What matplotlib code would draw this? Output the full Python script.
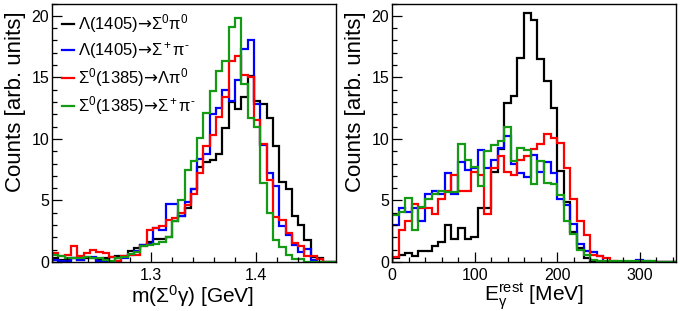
import numpy as np
import matplotlib
matplotlib.use("Agg")
import matplotlib.pyplot as plt
from matplotlib.ticker import MultipleLocator

plt.rcParams['font.family'] = ['Liberation Sans', 'DejaVu Sans']
plt.rcParams['mathtext.fontset'] = 'custom'
plt.rcParams['mathtext.rm'] = 'Liberation Sans'
plt.rcParams['mathtext.it'] = 'Liberation Sans'
plt.rcParams['mathtext.sf'] = 'DejaVu Sans'

# binning
m_lo, m_hi, m_nbins = 1.206, 1.476, 45
e_lo, e_hi, e_nbins = 0.0, 344.0, 43

labels = [r'Λ(1405)$\mathsf{→}$Σ$^0$π$^0$', r'Λ(1405)$\mathsf{→}$Σ$^+$π$^{\text{-}}$',
          r'Σ$^0$(1385)$\mathsf{→}$Λπ$^0$', r'Σ$^0$(1385)$\mathsf{→}$Σ$^+$π$^{\text{-}}$']
colors = ['black', '#0000ff', '#ff0000', '#159a15']

# m(Sigma0 gamma) histograms
m_black = [0.3, 0.2, 0.2, 0.3, 0.2, 0.3, 0.3, 0.2, 0.3, 0.4,
           0.5, 0.5, 0.9, 1.1, 1.4, 1.6, 1.85, 1.9, 2.0, 3.3,
           3.7, 4.4, 5.9, 7.7, 8.1, 8.3, 8.8, 10.9, 13.0, 12.4,
           13.4, 15.1, 13.1, 12.8, 11.7, 9.4, 6.5, 5.9, 3.7, 3.0,
           1.8, 0.4, 0.3, 0.0, 0.0]
m_blue = [0.2, 0.1, 0.1, 0.3, 0.2, 0.4, 0.4, 0.1, 0.1, 0.0,
          0.1, 0.3, 0.6, 0.9, 1.4, 1.5, 2.8, 2.6, 4.7, 4.7,
          3.7, 4.9, 5.9, 8.4, 8.8, 12.0, 12.5, 14.0, 13.1, 14.8,
          17.3, 18.0, 12.8, 9.5, 7.2, 6.2, 2.9, 2.2, 1.4, 0.8,
          1.05, 0.2, 0.0, 0.0, 0.0]
m_red = [0.7, 0.5, 0.6, 1.3, 0.45, 0.7, 0.95, 0.85, 0.75, 0.4,
         0.1, 0.45, 0.6, 0.6, 1.3, 2.6, 2.75, 2.9, 3.4, 3.6,
         4.0, 4.6, 5.5, 7.2, 9.4, 10.3, 11.8, 13.4, 16.3, 16.7,
         15.2, 15.0, 11.5, 9.6, 6.7, 3.65, 3.4, 2.35, 1.55, 1.3,
         0.5, 0.45, 0.25, 0.0, 0.0]
m_green = [0.55, 0.5, 0.3, 0.3, 0.35, 0.4, 0.3, 0.35, 0.2, 0.1,
           0.3, 0.4, 0.65, 0.85, 1.3, 1.4, 1.5, 1.65, 2.05, 3.3,
           5.0, 7.5, 8.2, 10.1, 12.1, 13.9, 15.5, 16.3, 19.1, 19.8,
           14.5, 11.7, 10.95, 6.4, 4.0, 1.8, 1.2, 0.6, 0.25, 0.25,
           0.0, 0.0, 0.0, 0.0, 0.0]

# E_gamma^rest histograms
e_black = [0.3, 0.6, 0.7, 0.5, 0.9, 0.9, 1.3, 1.65, 3.0, 1.85,
           2.8, 1.9, 2.0, 4.4, 4.4, 7.3, 9.2, 12.9, 13.5, 16.6,
           20.2, 19.7, 16.5, 14.7, 12.5, 7.4, 4.9, 2.4, 1.15, 0.3,
           0, 0, 0, 0, 0, 0, 0, 0, 0, 0, 0, 0, 0]
e_blue = [3.0, 4.4, 4.1, 4.4, 3.3, 5.5, 5.8, 5.5, 7.2, 5.5,
          8.1, 7.5, 7.6, 9.1, 7.6, 8.3, 9.25, 10.2, 8.0, 7.25,
          6.9, 8.7, 7.35, 8.15, 7.2, 5.1, 4.6, 3.1, 1.5, 0.9,
          0.85, 0.45, 0, 0, 0, 0, 0, 0.2, 0.1, 0, 0, 0, 0]
e_red = [0.4, 2.6, 3.3, 4.7, 4.4, 4.4, 3.9, 5.1, 5.8, 7.1,
         5.8, 5.8, 7.3, 7.1, 3.9, 7.6, 8.6, 7.3, 7.1, 8.3,
         8.6, 9.2, 9.6, 10.4, 10.1, 9.7, 7.6, 5.1, 3.3, 2.2,
         0.6, 0.5, 0.3, 0.1, 0, 0, 0, 0, 0, 0, 0, 0, 0]
e_green = [3.8, 4.1, 5.2, 2.6, 4.5, 5.1, 5.5, 5.8, 5.7, 5.7,
           9.55, 8.3, 7.7, 6.2, 9.0, 9.5, 9.8, 11.0, 8.2, 9.3,
           9.1, 6.3, 8.2, 6.4, 6.3, 5.45, 3.3, 2.3, 1.0, 0.6,
           0.15, 0.1, 0.1, 0.1, 0.1, 0.1, 0.1, 0.1, 0.1, 0.05, 0, 0, 0]


def style_axis(ax):
    ax.tick_params(which='both', direction='in', top=False, right=False,
                   labelsize=11.5, width=0.9)
    ax.tick_params(which='major', length=7)
    ax.tick_params(which='minor', length=3.5)
    ax.tick_params(axis='x', pad=4)
    ax.tick_params(axis='y', pad=2)
    ax.yaxis.set_major_locator(MultipleLocator(5))
    ax.yaxis.set_minor_locator(MultipleLocator(1))
    ax.set_ylim(0, 21)
    for s in ax.spines.values():
        s.set_linewidth(1.0)
    ax.set_ylabel('Counts [arb. units]', fontsize=16, loc='top')
    ax.yaxis.set_label_coords(-0.092, 0.97)


fig = plt.figure(figsize=(6.8, 3.11), dpi=100)
ax1 = fig.add_axes([0.0765, 0.1576, 0.4176, 0.831])
ax2 = fig.add_axes([0.5765, 0.1576, 0.4176, 0.831])

m_edges = np.linspace(m_lo, m_hi, m_nbins + 1)
e_edges = np.linspace(e_lo, e_hi, e_nbins + 1)

for vals, c, lab in zip([m_black, m_blue, m_red, m_green], colors, labels):
    ax1.stairs(vals, m_edges, color=c, lw=1.6, label=lab)
for vals, c in zip([e_black, e_blue, e_red, e_green], colors):
    ax2.stairs(vals, e_edges, color=c, lw=1.6)

ax1.set_xlim(m_lo, m_hi)
ax1.xaxis.set_minor_locator(MultipleLocator(0.02))
ax1.set_xticks([1.3, 1.4])
ax1.set_xticklabels(['1.3', '1.4'])
style_axis(ax1)
ax1.set_xlabel('m(Σ$^0$γ) [GeV]', fontsize=15, loc='right')
ax1.xaxis.set_label_coords(0.71, -0.083)

ax2.set_xlim(e_lo, e_hi)
ax2.xaxis.set_major_locator(MultipleLocator(100))
ax2.xaxis.set_minor_locator(MultipleLocator(20))
style_axis(ax2)
ax2.set_xlabel('E$_{γ}^{rest}$ [MeV]', fontsize=15, loc='right')
ax2.xaxis.set_label_coords(0.675, -0.078)

leg = ax1.legend(loc='upper left', bbox_to_anchor=(0.035, 0.965), frameon=False,
                 fontsize=12, handlelength=0.7, handletextpad=0.25,
                 labelspacing=0.3, borderpad=0, borderaxespad=0)

fig.savefig('out.png', dpi=100)
